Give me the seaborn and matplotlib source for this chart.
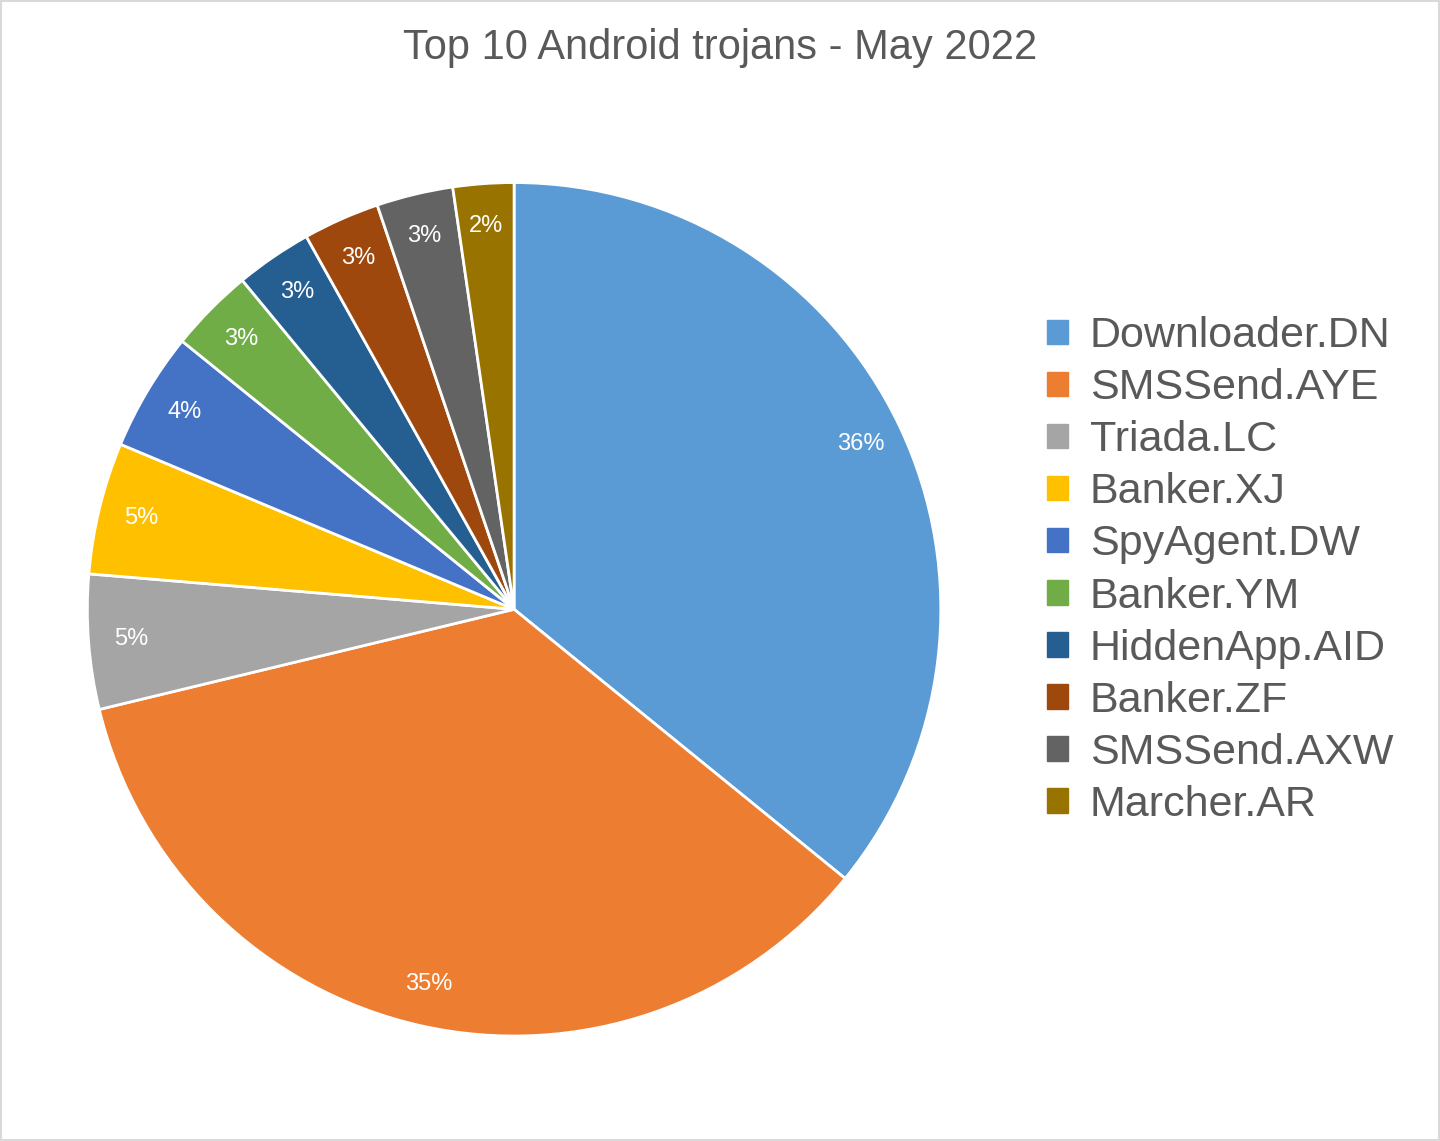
import matplotlib
matplotlib.use("Agg")
import matplotlib.pyplot as plt
import seaborn as sns
from matplotlib.patches import Patch, Rectangle

names = ["Downloader.DN", "SMSSend.AYE", "Triada.LC", "Banker.XJ", "SpyAgent.DW",
         "Banker.YM", "HiddenApp.AID", "Banker.ZF", "SMSSend.AXW", "Marcher.AR"]
values = [35.9, 35.4, 5.1, 5.0, 4.5, 3.2, 2.9, 2.9, 2.9, 2.3]
colors = sns.color_palette(["#5B9BD5", "#ED7D31", "#A5A5A5", "#FFC000", "#4472C4",
                            "#70AD47", "#255E91", "#9E480E", "#636363", "#997300"])
title = "Top 10 Android trojans - May 2022"

sns.set_theme(style="white", font="Liberation Sans")
fig = plt.figure(figsize=(14.4, 11.41), dpi=100)
fig.patches.append(Rectangle((0.0005, 0.0005), 0.999, 0.999, transform=fig.transFigure,
                             fill=False, edgecolor="#D9D9D9", linewidth=1.5))
ax = fig.add_axes([0.357 - 0.2965, 0.466 - 0.374, 0.593, 0.748])
wedges, texts, autotexts = ax.pie(values, colors=colors, startangle=90, counterclock=False,
                                  autopct=lambda p: f"{p:.0f}%", pctdistance=0.9,
                                  wedgeprops=dict(edgecolor="white", linewidth=2),
                                  textprops=dict(color="white", fontsize=17))
ax.set_xlim(-1, 1); ax.set_ylim(-1, 1); ax.set_aspect("equal")
fig.text(0.5, 0.958, title, ha="center", va="center", fontsize=30, color="#595959")
handles = [Patch(facecolor=c, edgecolor=c) for c in colors]
leg = fig.legend(handles, names, loc="center left", bbox_to_anchor=(0.7, 0.5),
                 frameon=False, fontsize=31, labelcolor="#595959", handlelength=0.5,
                 handleheight=0.5, handletextpad=0.5, labelspacing=0.28)
fig.savefig("out.png", dpi=100)
